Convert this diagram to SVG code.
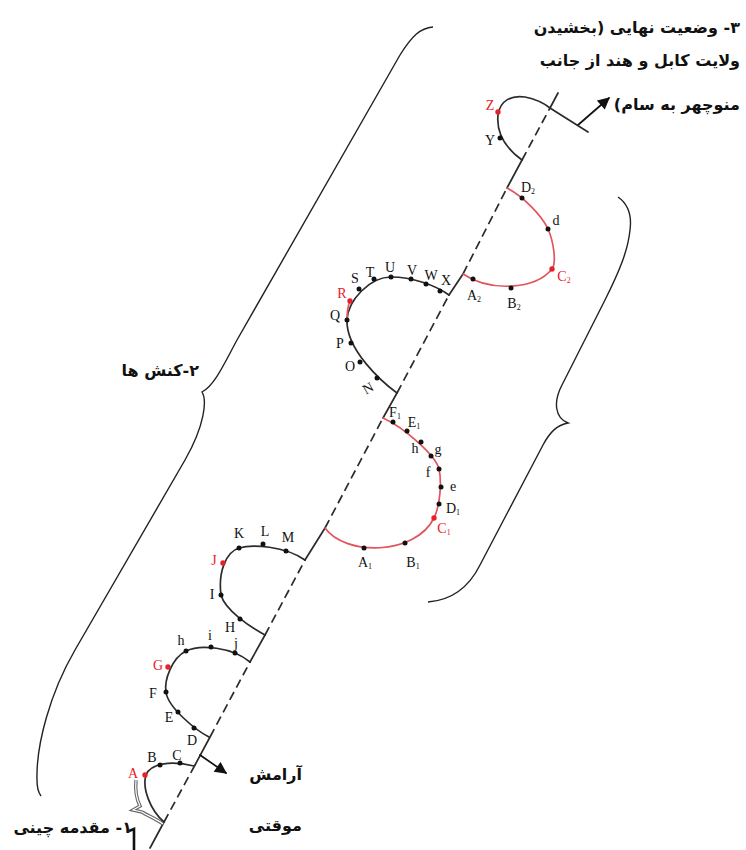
<svg xmlns="http://www.w3.org/2000/svg" width="746" height="850" viewBox="0 0 746 850">
<style>
.ln{fill:none;stroke:#2b2b2b;stroke-width:1.7;stroke-linecap:round}
.rl{fill:none;stroke:#e0555c;stroke-width:1.7;stroke-linecap:round}
.dash{stroke-dasharray:9 5;stroke-linecap:butt}
.br{fill:none;stroke:#222;stroke-width:1.4}
.dot{fill:#111}
.rdot{fill:#e8202a}
.lb{font-family:"Liberation Serif",serif;font-size:14px;fill:#111;text-anchor:middle}
.lr{fill:#e8202a}
.sb{font-size:8px}
.fa{font-family:"DejaVu Sans",sans-serif;font-weight:bold;font-size:16px;fill:#111;direction:rtl;text-anchor:start}
</style>
<defs>
<marker id="ah" viewBox="0 0 10 10" refX="9" refY="5" markerWidth="13" markerHeight="12" orient="auto" markerUnits="userSpaceOnUse">
<path d="M0,0 L10,5 L0,10 z" fill="#111"/>
</marker>
</defs>
<rect width="746" height="850" fill="#fff"/>

<g id="connectors">
<path class="ln" d="M150,848 L164,822 M195,765 L210,737 M250,662 L265,635 M305,560 L325,528 M383,418 L397,393 M449,295 L463,274 M507,188 L522,160 M550,108 L558,93"/>
<path class="ln dash" d="M164,822 L195,765 M210,737 L250,662 M265,635 L305,560 M325,528 L383,418 M397,393 L449,295 M463,274 L507,188 M522,160 L550,108"/>
<line class="ln" x1="200" y1="755" x2="226" y2="773" marker-end="url(#ah)" style="stroke:#111"/>
<line class="ln" x1="578" y1="125" x2="609" y2="98" marker-end="url(#ah)" style="stroke:#111"/>
</g>

<g id="brace-left">
<path class="br" d="M433,27 C420,28 412,36 400,55 L237,340 C225,362 215,385 202,392 C207,400 205,425 185,460 L75,650 C50,693 36,745 37,780 C37,788 38,792 41,796"/>
</g>
<g id="brace-right">
<path class="br" d="M618,197 C628,204 632,215 630,230 C628,250 620,270 605,300 L562,385 C553,402 555,418 568,423 C557,425 550,432 543,445 L480,565 C470,585 455,600 428,602"/>
</g>
<g id="brace-small">
<path d="M136,780 C135,790 137,800 140,806 L133,810 L142,812 C148,816 155,818 163,824" fill="none" stroke="#666" stroke-width="3.4"/>
<path d="M136,780 C135,790 137,800 140,806 L133,810 L142,812 C148,816 155,818 163,824" fill="none" stroke="#fff" stroke-width="1.2"/>
<path d="M129,831 L134,829 L134,850" fill="none" stroke="#111" stroke-width="2.6"/>
</g>

<g id="loop-A">
<path class="ln" d="M164,822 C150,810 142,788 146,775 C150,764 170,760 194,766"/>
<circle class="rdot" cx="145" cy="775" r="2.7"/>
<circle class="dot" cx="160" cy="765" r="2.5"/>
<circle class="dot" cx="180" cy="763" r="2.5"/>
<text class="lb lr" x="133" y="778">A</text>
<text class="lb" x="152" y="762">B</text>
<text class="lb" x="177" y="760">C</text>
</g>

<g id="loop-D">
<path class="ln" d="M209,737 C197,731 168,708 166,692 C164,680 172,658 186,651 C200,644 232,647 250,662"/>
<circle class="dot" cx="194" cy="728" r="2.5"/>
<circle class="dot" cx="178" cy="712" r="2.5"/>
<circle class="dot" cx="166" cy="692" r="2.5"/>
<circle class="rdot" cx="168" cy="667" r="2.7"/>
<circle class="dot" cx="186" cy="651" r="2.5"/>
<circle class="dot" cx="211" cy="647" r="2.5"/>
<circle class="dot" cx="235" cy="653" r="2.5"/>
<text class="lb" x="192" y="745">D</text>
<text class="lb" x="169" y="722">E</text>
<text class="lb" x="153" y="698">F</text>
<text class="lb lr" x="158" y="670">G</text>
<text class="lb" x="181" y="645">h</text>
<text class="lb" x="210" y="640">i</text>
<text class="lb" x="236" y="648">j</text>
</g>

<g id="loop-H">
<path class="ln" d="M265,635 C250,627 225,610 221,595 C218,572 226,552 239,548 C252,544 285,546 305,560"/>
<circle class="dot" cx="240" cy="619" r="2.5"/>
<circle class="dot" cx="221" cy="595" r="2.5"/>
<circle class="rdot" cx="223" cy="563" r="2.7"/>
<circle class="dot" cx="239" cy="548" r="2.5"/>
<circle class="dot" cx="263" cy="544" r="2.5"/>
<circle class="dot" cx="286" cy="551" r="2.5"/>
<text class="lb" x="230" y="632">H</text>
<text class="lb" x="212" y="599">I</text>
<text class="lb lr" x="214" y="565">J</text>
<text class="lb" x="239" y="538">K</text>
<text class="lb" x="265" y="536">L</text>
<text class="lb" x="288" y="542">M</text>
</g>

<g id="loop-A1">
<path class="rl" d="M325,528 C345,556 415,556 434,518 C440,506 442,482 439,469 C436,456 405,428 383,418"/>
<circle class="dot" cx="364" cy="548" r="2.5"/>
<circle class="dot" cx="405" cy="543" r="2.5"/>
<circle class="rdot" cx="434" cy="518" r="2.7"/>
<circle class="dot" cx="439" cy="504" r="2.5"/>
<circle class="dot" cx="441" cy="487" r="2.5"/>
<circle class="dot" cx="439" cy="469" r="2.5"/>
<circle class="dot" cx="431" cy="456" r="2.5"/>
<circle class="dot" cx="421" cy="442" r="2.5"/>
<circle class="dot" cx="407" cy="431" r="2.5"/>
<circle class="dot" cx="393" cy="422" r="2.5"/>
<text class="lb" x="365" y="567">A<tspan class="sb" dy="2">1</tspan></text>
<text class="lb" x="413" y="567">B<tspan class="sb" dy="2">1</tspan></text>
<text class="lb lr" x="444" y="533">C<tspan class="sb" dy="2">1</tspan></text>
<text class="lb" x="453" y="513">D<tspan class="sb" dy="2">1</tspan></text>
<text class="lb" x="453" y="491">e</text>
<text class="lb" x="428" y="477">f</text>
<text class="lb" x="438" y="454">g</text>
<text class="lb" x="415" y="453">h</text>
<text class="lb" x="414" y="427">E<tspan class="sb" dy="2">1</tspan></text>
<text class="lb" x="395" y="417">F<tspan class="sb" dy="2">1</tspan></text>
</g>

<g id="loop-N">
<path class="ln" d="M397,393 C382,382 346,350 347,320 C348,300 370,277 391,277 C412,277 435,285 449,295"/>
<path class="rl" d="M347,320 Q347,308 350,301"/>
<circle class="dot" cx="377" cy="378" r="2.5"/>
<circle class="dot" cx="360" cy="362" r="2.5"/>
<circle class="dot" cx="351" cy="343" r="2.5"/>
<circle class="dot" cx="347" cy="320" r="2.5"/>
<circle class="rdot" cx="350" cy="301" r="2.7"/>
<circle class="dot" cx="359" cy="289" r="2.5"/>
<circle class="dot" cx="374" cy="279" r="2.5"/>
<circle class="dot" cx="391" cy="277" r="2.5"/>
<circle class="dot" cx="411" cy="279" r="2.5"/>
<circle class="dot" cx="426" cy="284" r="2.5"/>
<circle class="dot" cx="440" cy="291" r="2.5"/>
<text class="lb" x="368" y="393" transform="rotate(-30 368 388)">N</text>
<text class="lb" x="350" y="371">O</text>
<text class="lb" x="340" y="348">P</text>
<text class="lb" x="335" y="320">Q</text>
<text class="lb lr" x="342" y="298">R</text>
<text class="lb" x="355" y="283">S</text>
<text class="lb" x="370" y="277">T</text>
<text class="lb" x="390" y="272">U</text>
<text class="lb" x="412" y="275">V</text>
<text class="lb" x="431" y="280">W</text>
<text class="lb" x="446" y="285">X</text>
</g>

<g id="loop-A2">
<path class="rl" d="M463,274 C490,292 535,290 552,269 C557,262 553,240 548,229 C541,214 522,196 507,188"/>
<circle class="dot" cx="473" cy="279" r="2.5"/>
<circle class="dot" cx="511" cy="288" r="2.5"/>
<circle class="rdot" cx="552" cy="269" r="2.7"/>
<circle class="dot" cx="548" cy="229" r="2.5"/>
<circle class="dot" cx="522" cy="198" r="2.5"/>
<text class="lb" x="474" y="300">A<tspan class="sb" dy="2">2</tspan></text>
<text class="lb" x="514" y="308">B<tspan class="sb" dy="2">2</tspan></text>
<text class="lb lr" x="564" y="281">C<tspan class="sb" dy="2">2</tspan></text>
<text class="lb" x="556" y="225">d</text>
<text class="lb" x="528" y="192">D<tspan class="sb" dy="2">2</tspan></text>
</g>

<g id="loop-Z">
<path class="ln" d="M522,160 C508,150 496,135 498,115 C500,100 512,95 525,97 C535,99 545,104 550,108 L588,132"/>
<circle class="dot" cx="500" cy="138" r="2.5"/>
<circle class="rdot" cx="498" cy="112" r="2.7"/>
<text class="lb" x="490" y="145">Y</text>
<text class="lb lr" x="490" y="110">Z</text>
</g>

<g id="text-final">
<text class="fa" x="740" y="33">۳- وضعیت نهایی (بخشیدن</text>
<text class="fa" x="740" y="66">ولایت کابل و هند از جانب</text>
<text class="fa" x="740" y="110">منوچهر به سام)</text>
</g>
<g id="text-actions">
<text class="fa" x="199" y="376">۲-کنش ها</text>
</g>
<g id="text-pause">
<text class="fa" x="302" y="780">آرامش</text>
<text class="fa" x="302" y="831">موقتی</text>
</g>
<g id="text-intro">
<text class="fa" x="132" y="833">۱- مقدمه چینی</text>
</g>
</svg>
